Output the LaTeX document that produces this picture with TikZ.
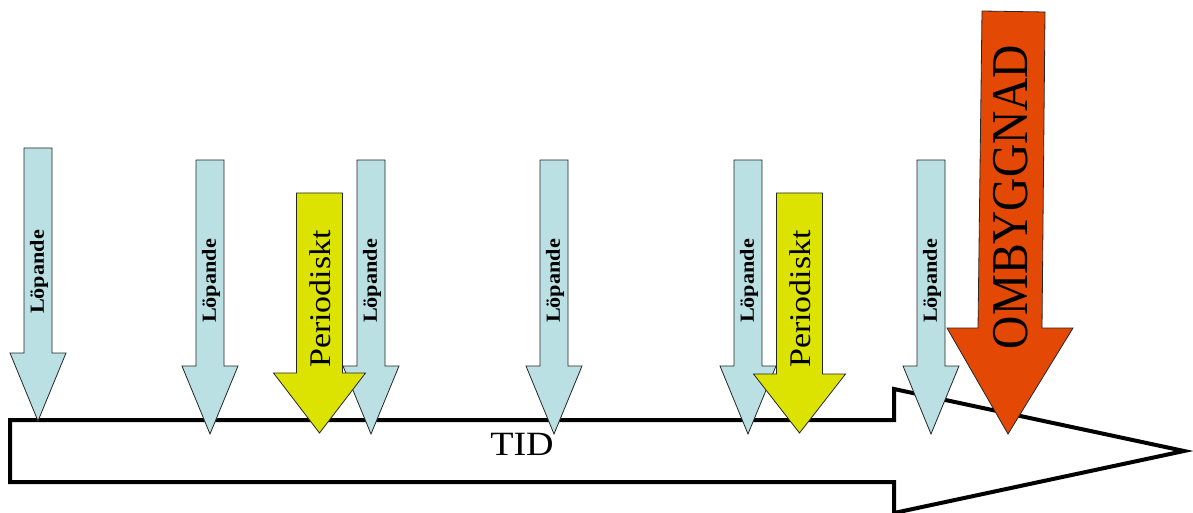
\documentclass[tikz,border=0pt]{standalone}
\usepackage{fontspec}
\setmainfont{Liberation Serif}
\definecolor{lopblue}{RGB}{186,224,228}
\definecolor{peryellow}{RGB}{221,227,0}
\definecolor{ombred}{RGB}{227,72,4}
% down-pointing block arrow: style, centre x, top y, shaft half width, head base y, head half width, tip y
\newcommand\dnarrow[7]{%
  \draw[#1] (#2-#4,#3) -- (#2+#4,#3) -- (#2+#4,#5) -- (#2+#6,#5) -- (#2,#7)
    -- (#2-#6,#5) -- (#2-#4,#5) -- cycle;}
\begin{document}
\begin{tikzpicture}[x=1pt,y=-1pt,
    bluearrow/.style={fill=lopblue,draw=black!85,line width=0.8pt,line join=miter},
    yellowarrow/.style={fill=peryellow,draw=black!85,line width=0.8pt,line join=miter},
    redarrow/.style={fill=ombred,draw=black!85,line width=0.8pt,line join=miter},
    timearrow/.style={fill=white,draw=black,line width=4pt,line join=miter},
    loplabel/.style={rotate=90,inner sep=0pt,font=\fontsize{20}{20}\selectfont\bfseries},
    perlabel/.style={rotate=90,inner sep=0pt,font=\fontsize{30}{30}\selectfont},
    omblabel/.style={rotate=90,inner sep=0pt,font=\fontsize{46}{46}\selectfont},
    tidlabel/.style={inner sep=0pt,font=\fontsize{34}{34}\selectfont}]
  \useasboundingbox (0,0) rectangle (1193,513);

  % time axis
  \draw[timearrow] (10,420) -- (894,420) -- (894,389) -- (1184,451) -- (894,513)
    -- (894,482) -- (10,482) -- cycle;
  \node[tidlabel] (tid) at (522,444) {\scalebox{1.12}[1]{TID}};

  % running maintenance
  \dnarrow{bluearrow}{38}{148}{14}{353}{28}{421}
  \dnarrow{bluearrow}{210}{160}{14}{366}{28}{434}
  \dnarrow{bluearrow}{371}{160}{14}{366}{28}{434}
  \dnarrow{bluearrow}{554}{160}{14}{366}{28}{434}
  \dnarrow{bluearrow}{748}{160}{14}{366}{28}{434}
  \dnarrow{bluearrow}{931}{160}{14}{366}{28}{434}
  \node[loplabel] (lop1) at (39,272) {\scalebox{1.11}[1]{Löpande}};
  \node[loplabel] (lop2) at (211,281) {\scalebox{1.11}[1]{Löpande}};
  \node[loplabel] (lop3) at (372,281) {\scalebox{1.11}[1]{Löpande}};
  \node[loplabel] (lop4) at (555,281) {\scalebox{1.11}[1]{Löpande}};
  \node[loplabel] (lop5) at (749,281) {\scalebox{1.11}[1]{Löpande}};
  \node[loplabel] (lop6) at (932,281) {\scalebox{1.11}[1]{Löpande}};

  % periodic maintenance
  \dnarrow{yellowarrow}{319.5}{193}{23}{373}{46}{433}
  \dnarrow{yellowarrow}{799.5}{193}{23}{374}{46}{433}
  \node[perlabel] (per1) at (320,299) {\scalebox{1.13}[1]{Periodiskt}};
  \node[perlabel] (per2) at (800,299) {\scalebox{1.13}[1]{Periodiskt}};

  % reconstruction
  \draw[redarrow] (982,11) -- (1045,12) -- (1042,328) -- (1073,328) -- (1008,434)
    -- (947,328) -- (978,328) -- cycle;
  \node[omblabel] (omb) at (1011,197) {\scalebox{1}[1.12]{OMBYGGNAD}};
\end{tikzpicture}
\end{document}
